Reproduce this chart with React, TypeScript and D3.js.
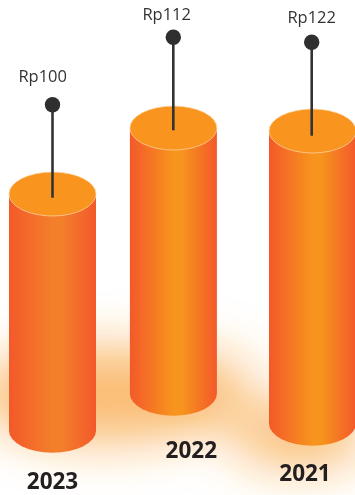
import React from "react";
import * as d3 from "d3";

// Chart values
const years = ["2023", "2022", "2021"];
const prices = [100, 112, 122];
const priceLabels = ["Rp100", "Rp112", "Rp122"];

// Staggered placement of the cylinders, pins and captions
const centerX = [52.5, 173.4, 312.5];
const baseY = [430.7, 393.7, 423.7];
const pinX = [52.5, 173.3, 311.7];
const pinRise = [89.3, 90.7, 88.7];
const pinDrop = [3.7, 2.3, 4.7];
const priceX = [42.7, 166.7, 311.7];
const priceY = [82.2, 20.2, 23];
const yearX = [52.5, 191.3, 305];
const yearY = [489.3, 457.7, 481];
const midColors = ["#f37f2b", "#f7941d", "#f7941d"];

const W = 355;
const H = 495;
const RX = 43.5;
const RY = 22;

const heightScale = d3
  .scaleLinear()
  .domain([100, 112, 122])
  .range([236.7, 265.7, 292.7]);

function cylinderPath(cx: number, top: number, bottom: number) {
  return [
    `M${cx - RX},${top}`,
    `L${cx - RX},${bottom}`,
    `A${RX},${RY} 0 0 0 ${cx + RX},${bottom}`,
    `L${cx + RX},${top}`,
    "Z",
  ].join(" ");
}

export default function App() {
  return (
    <svg
      width={W}
      height={H}
      viewBox={`0 0 ${W} ${H}`}
      style={{ position: "absolute", left: 0, top: 0, background: "#fff" }}
    >
      <defs>
        {midColors.map((c, i) => (
          <linearGradient key={i} id={`body${i}`} x1="0" x2="1" y1="0" y2="0">
            <stop offset="0" stopColor="#f3592a" />
            <stop offset="0.5" stopColor={c} />
            <stop offset="0.6" stopColor={c} />
            <stop offset="1" stopColor="#f3592a" />
          </linearGradient>
        ))}
        <filter
          id="glow"
          filterUnits="userSpaceOnUse"
          x={-150}
          y={150}
          width={700}
          height={500}
        >
          <feGaussianBlur stdDeviation="25" />
        </filter>
      </defs>

      {/* Soft floor glow behind the cylinders */}
      <g filter="url(#glow)" fill="#f7941d">
        <ellipse cx={105} cy={395} rx={130} ry={48} opacity={0.62} />
        <ellipse cx={300} cy={435} rx={68} ry={32} opacity={0.62} />
        <ellipse cx={215} cy={390} rx={50} ry={42} opacity={0.25} />
      </g>

      {years.map((year, i) => {
        const cx = centerX[i];
        const bottom = baseY[i];
        const top = bottom - heightScale(prices[i]);
        const dotY = top - pinRise[i];
        return (
          <g key={year}>
            <path d={cylinderPath(cx, top, bottom)} fill={`url(#body${i})`} />
            <ellipse
              cx={cx}
              cy={top}
              rx={RX}
              ry={RY}
              fill="#f9951f"
              stroke="#fcd9ad"
              strokeWidth={0.7}
            />
            <line
              x1={pinX[i]}
              x2={pinX[i]}
              y1={top + pinDrop[i]}
              y2={dotY}
              stroke="#333333"
              strokeWidth={2.6}
            />
            <circle cx={pinX[i]} cy={dotY} r={7.7} fill="#2f2f2f" />
            <text
              x={priceX[i]}
              y={priceY[i]}
              textAnchor="middle"
              fontFamily="'Open Sans', sans-serif"
              fontSize={16.5}
              fill="#333333"
            >
              {priceLabels[i]}
            </text>
            <text
              x={yearX[i]}
              y={yearY[i]}
              textAnchor="middle"
              fontFamily="'Open Sans', sans-serif"
              fontWeight={700}
              fontSize={22.5}
              fill="#231f20"
            >
              {year}
            </text>
          </g>
        );
      })}
    </svg>
  );
}
